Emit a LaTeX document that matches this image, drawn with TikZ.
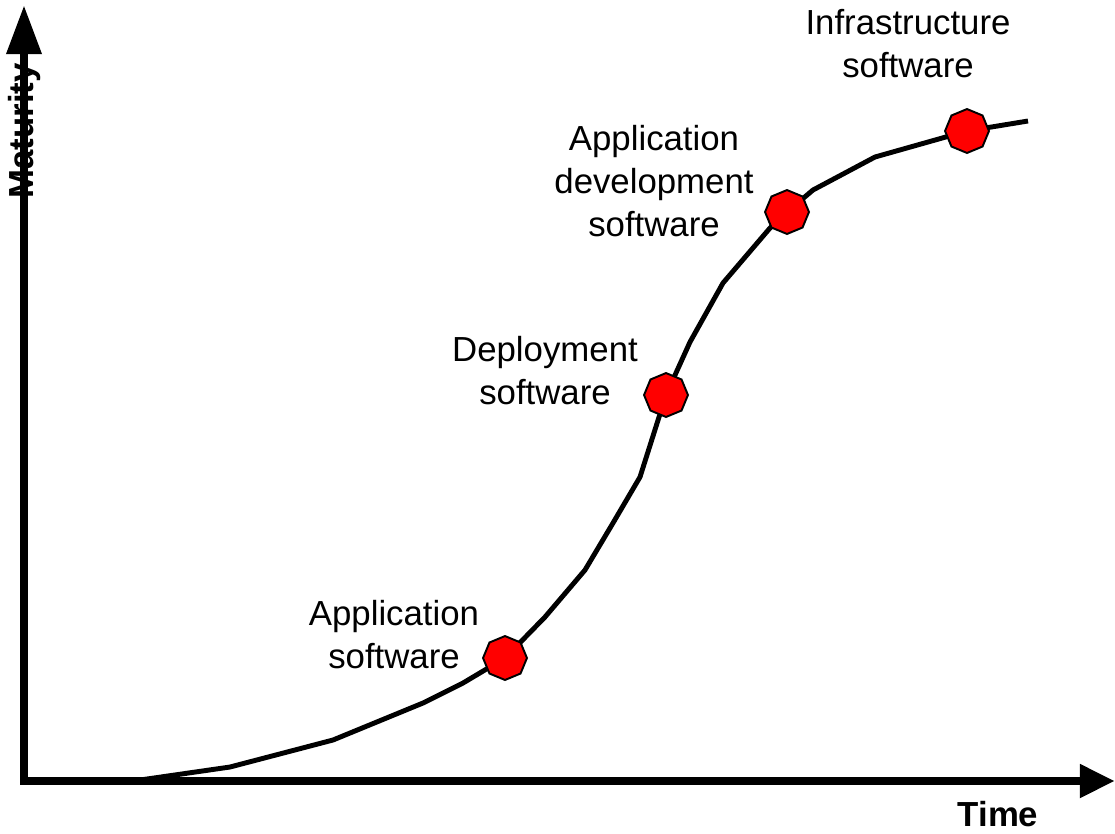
\documentclass[tikz,border=0pt]{standalone}
\usepackage{fontspec}
\setmainfont{Liberation Sans}
\usepackage{tikz}
\usetikzlibrary{shapes.geometric,arrows.meta}

\begin{document}
\begin{tikzpicture}[
  x=0.02cm, y=-0.02cm,
  every node/.style={inner sep=0pt, font=\fontsize{19.8pt}{24.4pt}\selectfont},
  label/.style={anchor=north, align=center},
  axislabel/.style={font=\fontsize{19.8pt}{24.4pt}\selectfont\bfseries},
  axis/.style={line width=5pt, miter limit=10},
  curve/.style={line width=2.8pt, line join=round},
  marker/.style={regular polygon, regular polygon sides=8, shape border rotate=22.5, minimum size=25pt, fill=red, draw=black, line width=1.1pt}
]
  \useasboundingbox (0,0) rectangle (1115,833);

  % axis titles
  \node[axislabel, rotate=90] (maturity) at (25,131) {Maturity};
  \node[axislabel] (time) at (998,814) {Time};

  % axes
  \coordinate (origin) at (24,781);
  \coordinate (ytip) at (24,5);
  \coordinate (xtip) at (1115,781);
  \draw[axis, {Triangle[length=28pt, width=19pt]}-{Triangle[length=20pt, width=18pt]}]
    (ytip) -- (origin) -- (xtip);

  % maturity curve
  \coordinate (start) at (140,780);
  \coordinate (end) at (1028,121);
  \path (505,658) coordinate (p1)
        (666,395) coordinate (p2)
        (787,212) coordinate (p3)
        (967,131) coordinate (p4);
  \draw[curve] (start) -- (230,767) -- (333,740) -- (423,703) -- (463,683) -- (p1)
    -- (545,617) -- (585,570) -- (613,523) -- (640,477) -- (p2)
    -- (690,342) -- (723,283) -- (770,228) -- (p3)
    -- (813,190) -- (875,157) -- (p4) -- (end);

  \node[marker] (appsw) at (p1) {};
  \node[marker] (deploy) at (p2) {};
  \node[marker] (appdev) at (p3) {};
  \node[marker] (infra) at (p4) {};

  % labels
  \node[label] (appswtext) at (394,600) {Application\\software};
  \node[label] (deploytext) at (545,336) {Deployment\\software};
  \node[label] (appdevtext) at (654,125) {Application\\development\\software};
  \node[label] (infratext) at (908,9) {Infrastructure\\software};
\end{tikzpicture}
\end{document}
